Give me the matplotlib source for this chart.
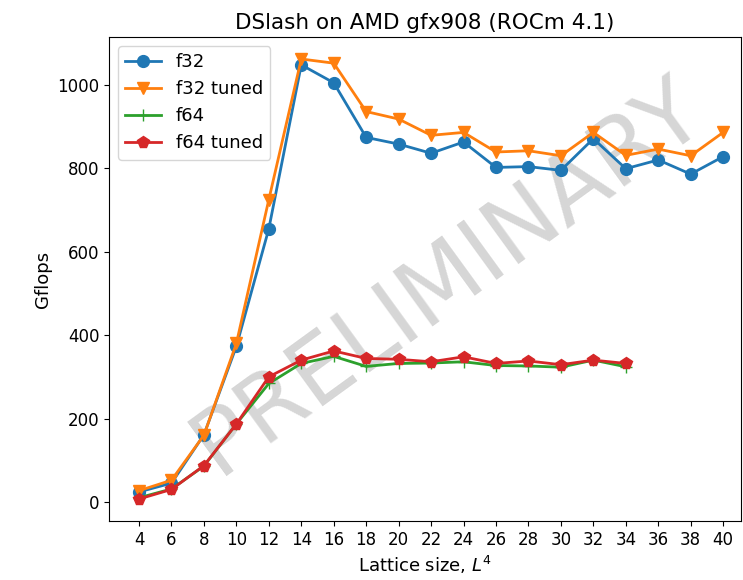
import numpy as np
import matplotlib
matplotlib.use("Agg")
import matplotlib.pyplot as plt

# lattice sizes L (L^4 volume)
sizes = [4, 6, 8, 10, 12, 14, 16, 18, 20, 22, 24, 26, 28, 30, 32, 34, 36, 38, 40]
sizes64 = sizes[:16]

f32 = [24, 45, 161, 373, 655, 1048, 1005, 874, 858, 836, 863, 802, 804, 795, 871, 799, 820, 786, 828]
f32_tuned = [27, 52, 160, 380, 725, 1062, 1052, 936, 918, 879, 886, 839, 842, 830, 886, 831, 846, 830, 886]
f64 = [10, 31, 86, 187, 284, 332, 349, 325, 332, 333, 336, 327, 326, 323, 340, 324]
f64_tuned = [7, 30, 87, 187, 300, 340, 362, 344, 342, 336, 348, 332, 338, 329, 340, 332]

fig = plt.figure(figsize=(7.43, 5.8), dpi=100)
ax = fig.add_axes([109 / 743, 59 / 580, 632 / 743, 484 / 580])

ms = 8.5
lw = 2.0
ax.plot(sizes, f32, marker="o", ms=ms, lw=lw, label="f32")
ax.plot(sizes, f32_tuned, marker="v", ms=ms, lw=lw, label="f32 tuned")
ax.plot(sizes64, f64, marker="+", ms=ms, lw=lw, label="f64")
ax.plot(sizes64, f64_tuned, marker="p", ms=ms, lw=lw, label="f64 tuned")

ax.text(0.535, 0.505, "PRELIMINARY", transform=ax.transAxes, fontsize=66,
        color="gray", alpha=0.32, rotation=36, ha="center", va="center", zorder=0)

ax.set_xticks(sizes)
ax.set_xlim(2.15, 41.1)
ax.tick_params(labelsize=12)
ax.set_xlabel("Lattice size, $L^4$", fontsize=13)
ax.set_ylabel("Gflops", fontsize=13)
ax.set_title("DSlash on AMD gfx908 (ROCm 4.1)", fontsize=15.5)
ax.legend(loc="upper left", fontsize=13)

fig.savefig("out.png", dpi=100)
